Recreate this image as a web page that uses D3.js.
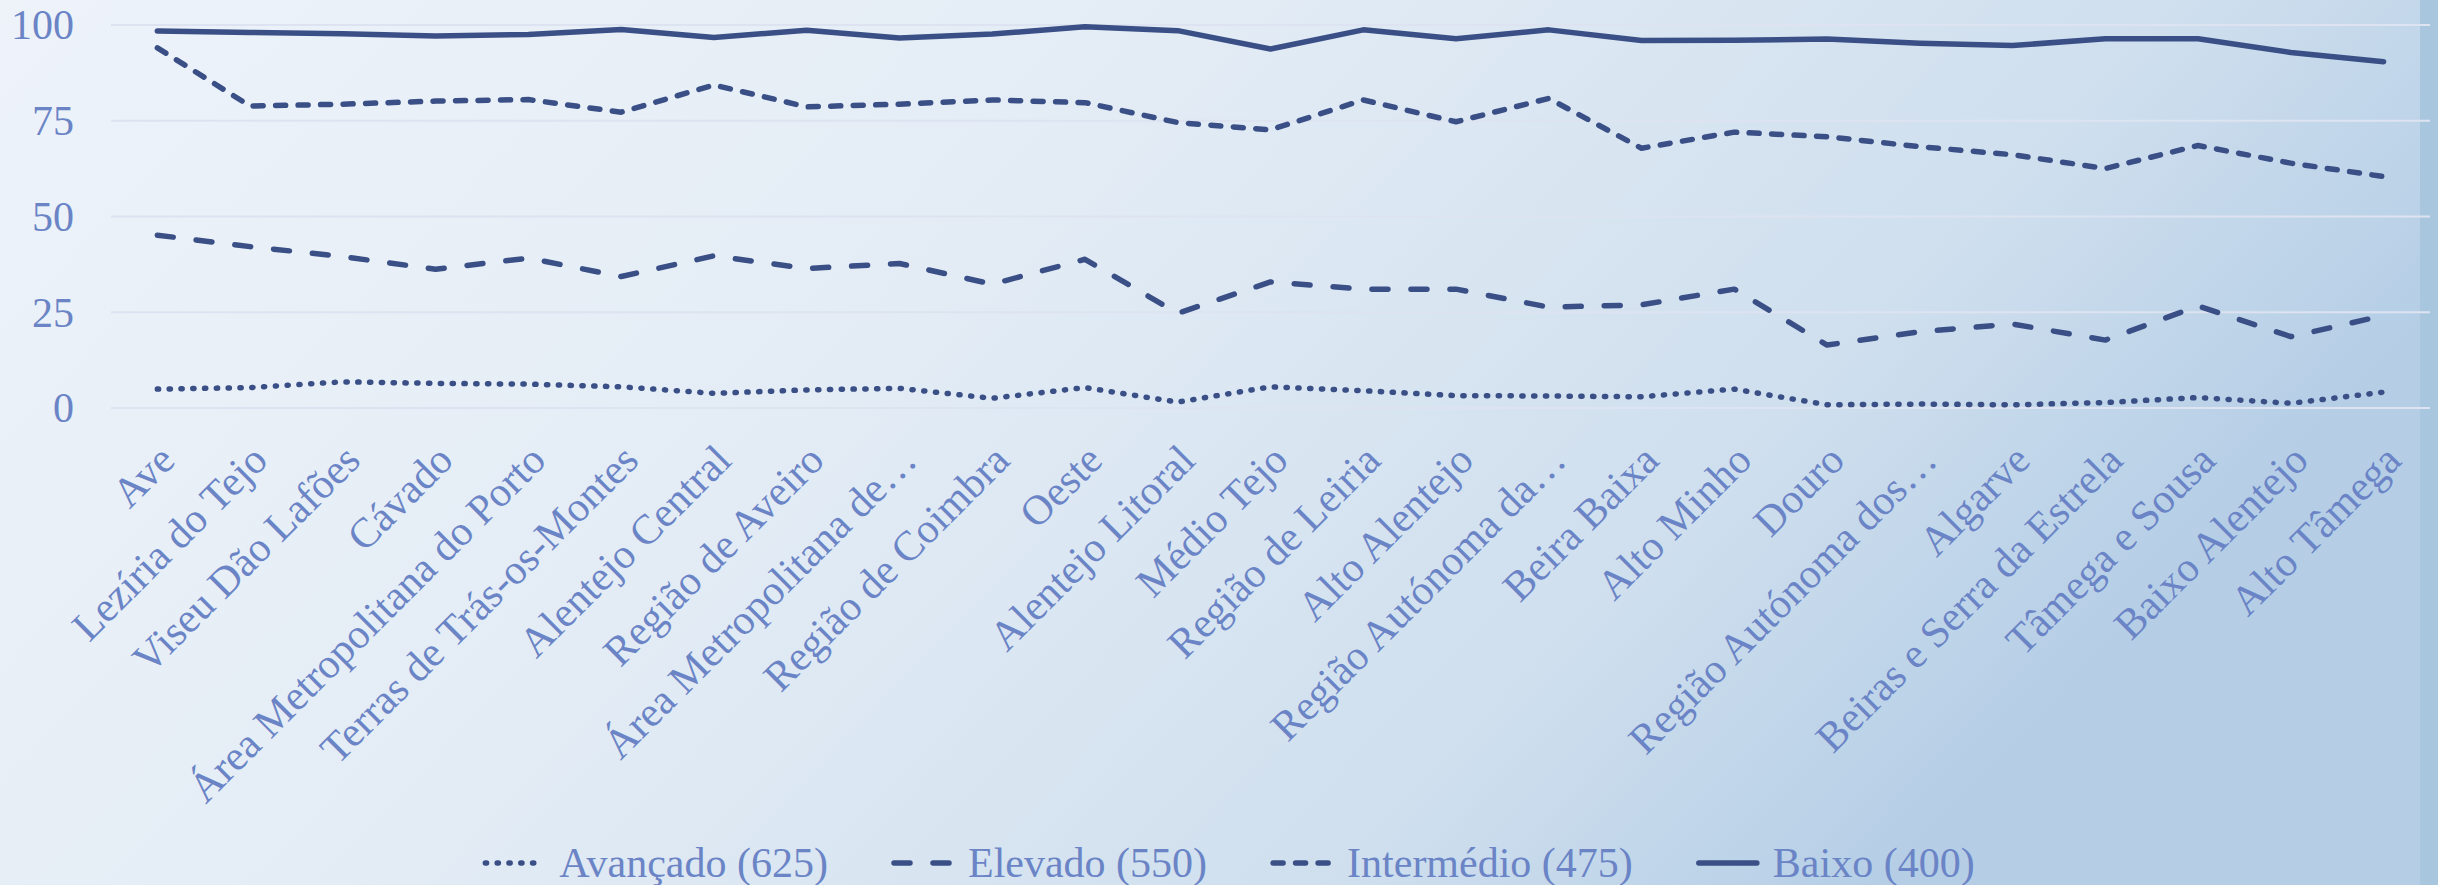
<!DOCTYPE html>
<meta charset="utf-8">
<script src="https://d3js.org/d3.v7.min.js"></script>
<title>Níveis de proficiência por NUTS III</title>
<style>
body { margin: 0; font-family: "Liberation Serif", "Times New Roman", serif; }
text { fill: #6a84c6; }
.grid line { stroke: #dde3f0; stroke-width: 2px; }
.serie { fill: none; stroke: #3a4f86; stroke-width: 5.5px; stroke-linejoin: round; stroke-linecap: round; }
</style>
<body>
<svg id="chart" width="2438" height="885"></svg>
<script>

var categories = ["Ave", "Lezíria do Tejo", "Viseu Dão Lafões", "Cávado", "Área Metropolitana do Porto",
  "Terras de Trás-os-Montes", "Alentejo Central", "Região de Aveiro", "Área Metropolitana de…",
  "Região de Coimbra", "Oeste", "Alentejo Litoral", "Médio Tejo", "Região de Leiria", "Alto Alentejo",
  "Região Autónoma da…", "Beira Baixa", "Alto Minho", "Douro", "Região Autónoma dos…", "Algarve",
  "Beiras e Serra da Estrela", "Tâmega e Sousa", "Baixo Alentejo", "Alto Tâmega"];

var avancado   = [4.8, 5.2, 6.7, 6.3, 6.1, 5.4, 3.7, 4.6, 5.0, 2.4, 5.2, 1.4, 5.4, 4.4, 3.1, 3.0, 2.8, 4.8, 0.7, 0.9, 0.7, 1.3, 2.6, 1.1, 4.0];
var elevado    = [45.0, 42.0, 39.4, 36.1, 39.0, 34.2, 39.6, 36.3, 37.6, 32.2, 38.7, 24.6, 32.8, 30.9, 30.9, 26.2, 26.8, 30.9, 16.3, 19.8, 21.8, 17.6, 26.5, 18.5, 24.0];
var intermedio = [93.9, 78.7, 79.2, 80.0, 80.4, 77.1, 84.2, 78.5, 79.2, 80.3, 79.6, 74.4, 72.5, 80.3, 74.6, 80.7, 67.7, 71.9, 70.7, 68.1, 66.0, 62.4, 68.4, 63.8, 60.3];
var baixo      = [98.3, 97.9, 97.6, 97.0, 97.4, 98.7, 96.6, 98.5, 96.5, 97.5, 99.4, 98.4, 93.6, 98.6, 96.3, 98.6, 95.8, 95.9, 96.2, 95.1, 94.5, 96.3, 96.3, 92.7, 90.3];

var seriesNames = ["Avançado (625)", "Elevado (550)", "Intermédio (475)", "Baixo (400)"];
var yTicks = [0, 25, 50, 75, 100];

var svg = d3.select("#chart"),
    width = +svg.attr("width"),
    height = +svg.attr("height"),
    margin = {top: 24.5, right: 8, bottom: 477.5, left: 111};

// background
var defs = svg.append("defs");
var grad = defs.append("linearGradient")
    .attr("id", "bg")
    .attr("x1", 0).attr("y1", 0).attr("x2", 1).attr("y2", 0.35);
grad.append("stop").attr("offset", "0%").attr("stop-color", "#eef3fa");
grad.append("stop").attr("offset", "45%").attr("stop-color", "#e3ecf5");
grad.append("stop").attr("offset", "80%").attr("stop-color", "#cfdfee");
grad.append("stop").attr("offset", "100%").attr("stop-color", "#b5cee6");

svg.append("rect").attr("width", width).attr("height", height).attr("fill", "url(#bg)");
svg.append("rect").attr("x", 2420).attr("width", width - 2420).attr("height", height).attr("fill", "#a9c6df");

var x = d3.scalePoint()
    .domain(categories)
    .range([margin.left, width - margin.right])
    .padding(0.5);

var y = d3.scaleLinear()
    .domain([0, 100])
    .range([height - margin.bottom, margin.top]);

// gridlines + y labels
var yAxis = svg.append("g")
    .attr("class", "grid")
    .attr("transform", "translate(" + margin.left + ",0)")
    .call(d3.axisLeft(y).tickValues(yTicks).tickSize(-(width - margin.right - margin.left)).tickPadding(37));
yAxis.select(".domain").remove();
yAxis.selectAll("text")
    .style("font-family", "'Liberation Serif', 'Times New Roman', serif")
    .style("font-size", "42px")
    .attr("fill", "#6a84c6")
    .attr("dy", "0.34em");

// category labels
var xAxis = svg.append("g")
    .attr("transform", "translate(0," + y(0) + ")")
    .call(d3.axisBottom(x).tickSize(0));
xAxis.select(".domain").remove();
xAxis.selectAll("text")
    .style("font-family", "'Liberation Serif', 'Times New Roman', serif")
    .style("font-size", "42px")
    .attr("fill", "#6a84c6")
    .attr("x", 0).attr("y", 0).attr("dy", 0)
    .attr("text-anchor", "end")
    .attr("transform", "translate(19,55) rotate(-45)");

var dashes = ["1.2,10.6", "16,23", "10,12.5", null];
var data = [avancado, elevado, intermedio, baixo];

var line = d3.line()
    .x(function(d, i) { return x(categories[i]); })
    .y(function(d) { return y(d); });

data.forEach(function(s, k) {
  svg.append("path")
      .datum(s)
      .attr("class", "serie")
      .attr("d", line)
      .style("stroke-dasharray", dashes[k]);
});

// legend
var legend = svg.append("g").attr("class", "legend");
var items = legend.selectAll("g")
    .data(seriesNames)
  .enter().append("g");
items.append("line")
    .attr("class", "serie")
    .attr("x1", 2).attr("x2", 60)
    .attr("y1", 0).attr("y2", 0)
    .style("stroke-dasharray", function(d, i) { return dashes[i]; });
items.append("text")
    .attr("x", 76)
    .attr("y", 0)
    .attr("dy", "0.33em")
    .style("font-size", "42px")
    .text(function(d) { return d; });

var pos = 0;
items.each(function() {
  var g = d3.select(this);
  g.attr("transform", "translate(" + pos + ",0)");
  pos += 76 + g.select("text").node().getComputedTextLength() + 64;
});
var total = pos - 64;
legend.attr("transform", "translate(" + (1229 - total / 2) + ",863)");

</script>
</body>
